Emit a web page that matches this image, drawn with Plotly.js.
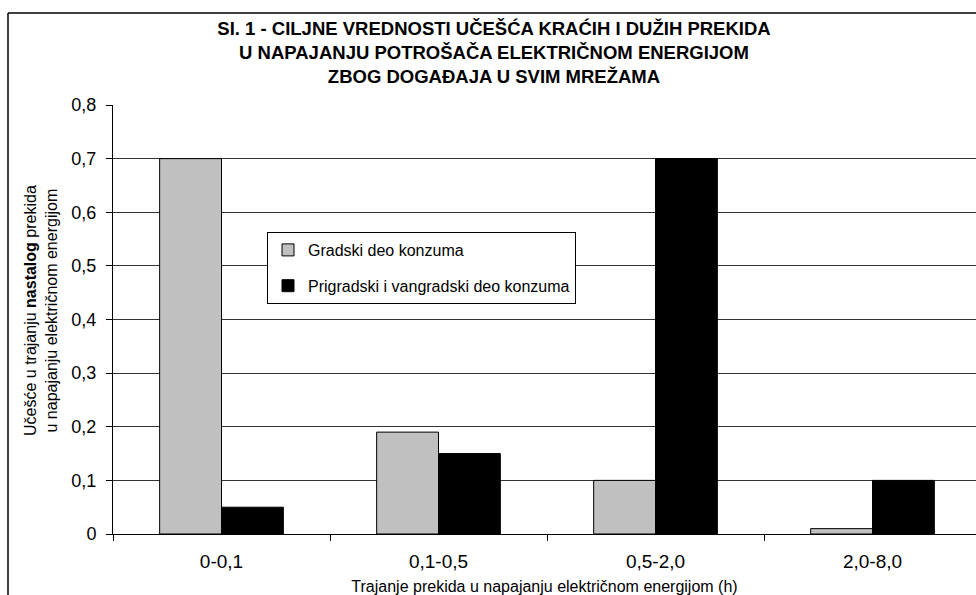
<!DOCTYPE html>
<html>
<head>
<meta charset="utf-8">
<script src="https://cdn.plot.ly/plotly-3.0.1.min.js"></script>
<style>
  html, body { margin: 0; padding: 0; background: #fff; }
  #chart { width: 976px; height: 595px; }
</style>
</head>
<body>
<div id="chart"></div>
<script>
const categories = ['0-0,1', '0,1-0,5', '0,5-2,0', '2,0-8,0'];
const seriesNames = ['Gradski deo konzuma', 'Prigradski i vangradski deo konzuma'];
const gradski = [0.7, 0.19, 0.1, 0.01];
const prigradski = [0.05, 0.15, 0.7, 0.1];
const yTicks = [0, 0.1, 0.2, 0.3, 0.4, 0.5, 0.6, 0.7, 0.8];

const FONT = 'Liberation Sans, Arial, sans-serif';

// plot-area geometry (px) used to convert positions to paper coords
const L = 113, T = 105, B = 61, W = 976, H = 595;
const pw = W - L, ph = H - T - B;
const px = v => (v - L) / pw;
const py = v => (H - B - v) / ph;
const catWidth = 217;

const traces = [
  {
    type: 'bar', name: seriesNames[0], x: categories, y: gradski,
    marker: { color: '#C0C0C0', line: { color: '#000', width: 1 } },
    legendgroup: 'a', hoverinfo: 'x+y'
  },
  {
    type: 'bar', name: seriesNames[1], x: categories, y: prigradski,
    marker: { color: '#000000', line: { color: '#000', width: 1 } },
    legendgroup: 'b', hoverinfo: 'x+y'
  }
];

const layout = {
  width: W, height: H,
  margin: { l: L, r: 0, t: T, b: B, autoexpand: false },
  paper_bgcolor: '#fff', plot_bgcolor: '#fff',
  separators: ', ',
  font: { family: FONT, size: 16, color: '#000' },
  barmode: 'group', bargap: 0.43, bargroupgap: 0,
  title: {
    text: '<b>SI. 1 - CILJNE VREDNOSTI UČEŠĆA KRAĆIH I DUŽIH PREKIDA<br>U NAPAJANJU POTROŠAČA ELEKTRIČNOM ENERGIJOM<br>ZBOG DOGAĐAJA U SVIM MREŽAMA</b>',
    font: { family: FONT, size: 18.5, color: '#000' },
    xref: 'container', x: 494 / W, xanchor: 'center',
    yref: 'container', y: 1 - 35 / H, yanchor: 'middle'
  },
  xaxis: {
    type: 'category',
    range: [-0.5, -0.5 + pw / catWidth],
    showline: true, linecolor: '#000', linewidth: 1,
    ticks: 'outside', tickson: 'boundaries', ticklen: 6, tickcolor: '#000',
    ticklabelstandoff: 10,
    tickfont: { family: FONT, size: 19, color: '#000' },
    showgrid: false, zeroline: false, fixedrange: true,
    title: {
      text: 'Trajanje prekida u napajanju električnom energijom (h)',
      font: { family: FONT, size: 16, color: '#000' },
      standoff: 13
    }
  },
  yaxis: {
    range: [0, 0.8], tickvals: yTicks,
    showline: true, linecolor: '#000', linewidth: 1,
    ticks: 'outside', ticklen: 6, tickcolor: '#000',
    ticklabelstandoff: 6,
    tickfont: { family: FONT, size: 18, color: '#000' },
    showgrid: true, gridcolor: '#333', gridwidth: 1,
    zeroline: false, fixedrange: true
  },
  legend: {
    x: px(267), y: py(232), xanchor: 'left', yanchor: 'top',
    bgcolor: '#fff', bordercolor: '#000', borderwidth: 1,
    font: { family: FONT, size: 16, color: '#000' },
    traceorder: 'grouped', tracegroupgap: 12
  },
  annotations: [
    {
      xref: 'paper', yref: 'paper', x: px(41), y: py(311),
      xanchor: 'center', yanchor: 'middle', textangle: -90, showarrow: false,
      text: 'Učešće u trajanju <b>nastalog</b> prekida<br>u napajanju električnom energijom',
      font: { family: FONT, size: 16, color: '#000' }
    }
  ],
  shapes: [
    { type: 'line', xref: 'paper', yref: 'paper', x0: px(8), x1: px(8), y0: py(13), y1: py(600), line: { color: '#000', width: 1.5 } },
    { type: 'line', xref: 'paper', yref: 'paper', x0: px(8), x1: px(990), y0: py(13), y1: py(13), line: { color: '#000', width: 1.5 } }
  ],
  showlegend: true
};

Plotly.newPlot('chart', traces, layout, { displayModeBar: false, staticPlot: true });
</script>
</body>
</html>
